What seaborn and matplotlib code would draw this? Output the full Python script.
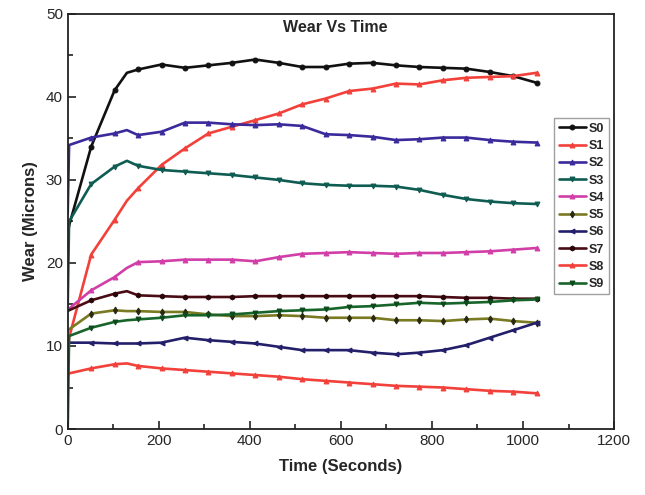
import matplotlib
matplotlib.use("Agg")
import matplotlib.pyplot as plt
import numpy as np
import pandas as pd
import seaborn as sns
from matplotlib.ticker import MultipleLocator

# time in seconds (0, 3 and 130 s are unmarked points on the curves)
time_s = [0, 3, 51.5, 103, 130, 154.5, 206, 257.5, 309, 360.5, 412, 463.5,
          515, 566.5, 618, 669.5, 721, 772.5, 824, 875.5, 927, 978.5, 1030]

s0 = [23.5, 24.5, 34, 40.8, 42.9, 43.3, 43.9, 43.5, 43.8, 44.1, 44.5, 44.1,
      43.6, 43.6, 44.0, 44.1, 43.8, 43.6, 43.5, 43.4, 43.0, 42.5, 41.7]
s1 = [8, 11, 21, 25.2, 27.5, 29, 31.8, 33.8, 35.6, 36.4, 37.2, 38.0,
      39.1, 39.8, 40.7, 41.0, 41.6, 41.5, 42.0, 42.3, 42.4, 42.5, 42.9]
s2 = [26, 34.2, 35.1, 35.6, 36.0, 35.4, 35.8, 36.9, 36.9, 36.7, 36.6, 36.7,
      36.5, 35.5, 35.4, 35.2, 34.8, 34.9, 35.1, 35.1, 34.8, 34.6, 34.5]
s3 = [15, 25, 29.5, 31.6, 32.3, 31.7, 31.2, 31.0, 30.8, 30.6, 30.3, 30.0,
      29.6, 29.4, 29.3, 29.3, 29.2, 28.8, 28.2, 27.7, 27.4, 27.2, 27.1]
s4 = [14.3, 14.5, 16.7, 18.3, 19.4, 20.1, 20.2, 20.4, 20.4, 20.4, 20.2, 20.7,
      21.1, 21.2, 21.3, 21.2, 21.1, 21.2, 21.2, 21.3, 21.4, 21.6, 21.8]
s5 = [11.8, 12.0, 13.9, 14.3, 14.2, 14.2, 14.1, 14.1, 13.8, 13.6, 13.6, 13.7,
      13.6, 13.4, 13.4, 13.4, 13.1, 13.1, 13.0, 13.2, 13.3, 13.0, 12.8]
s6 = [10.4, 10.4, 10.4, 10.3, 10.3, 10.3, 10.4, 11.0, 10.7, 10.5, 10.3, 9.9,
      9.5, 9.5, 9.5, 9.2, 9.0, 9.2, 9.5, 10.1, 11.0, 11.9, 12.8]
s7 = [14.2, 14.3, 15.5, 16.3, 16.6, 16.1, 16.0, 15.9, 15.9, 15.9, 16.0, 16.0,
      16.0, 16.0, 16.0, 16.0, 16.0, 16.0, 15.9, 15.8, 15.8, 15.7, 15.7]
s8 = [6.5, 6.7, 7.3, 7.8, 7.9, 7.6, 7.3, 7.1, 6.9, 6.7, 6.5, 6.3,
      6.0, 5.8, 5.6, 5.4, 5.2, 5.1, 5.0, 4.8, 4.6, 4.5, 4.3]
s9 = [0, 11.2, 12.2, 12.9, 13.1, 13.2, 13.4, 13.7, 13.7, 13.8, 14.0, 14.2,
      14.3, 14.4, 14.7, 14.8, 15.0, 15.2, 15.1, 15.2, 15.3, 15.5, 15.6]

labels = ["S0", "S1", "S2", "S3", "S4", "S5", "S6", "S7", "S8", "S9"]
series = [s0, s1, s2, s3, s4, s5, s6, s7, s8, s9]

colors = ["#111111", "#f2403a", "#3a2a9c", "#0e5c52", "#d23ea8",
          "#7a7a22", "#241f6a", "#4a0c14", "#f2403a", "#17652a"]
marker_colors = ["#111111", "#f2403a", "#3a2a9c", "#0e5c52", "#d23ea8",
                 "#2a2a10", "#241f6a", "#2a0508", "#f2403a", "#0c4a1c"]
markers = ["o", "^", "^", "v", "^", "d", "<", "h", "^", "v"]

sns.set_style("ticks")
plt.rcParams["font.family"] = ["Liberation Sans", "DejaVu Sans"]

fig = plt.figure(figsize=(6.45, 4.95), dpi=100)
ax = fig.add_axes([0.105, 0.1333, 0.847, 0.8387])

mark_idx = [i for i in range(2, len(time_s)) if time_s[i] != 130]

for lab, vals, c, mc, m in zip(labels, series, colors, marker_colors, markers):
    df = pd.DataFrame({"time": time_s, "wear": vals})
    sns.lineplot(data=df, x="time", y="wear", ax=ax, color=c, linewidth=1.9,
                 marker=m, markersize=3.5, markerfacecolor=mc, markeredgecolor=mc,
                 markevery=mark_idx, label=lab, sort=False)

ax.set_xlim(0, 1200)
ax.set_ylim(0, 50)
ax.xaxis.set_major_locator(MultipleLocator(200))
ax.xaxis.set_minor_locator(MultipleLocator(100))
ax.yaxis.set_major_locator(MultipleLocator(10))
ax.yaxis.set_minor_locator(MultipleLocator(5))
ax.tick_params(which="both", direction="in", top=False, right=False,
               labelsize=11, width=1.2, color="#222222")
ax.tick_params(which="major", length=6)
ax.tick_params(which="minor", length=3.5)
for sp in ax.spines.values():
    sp.set_visible(True)
    sp.set_linewidth(1.3)
    sp.set_color("#222222")

ax.set_xlabel("Time (Seconds)", fontsize=12, fontweight="bold", labelpad=8)
ax.set_ylabel("Wear (Microns)", fontsize=12, fontweight="bold", labelpad=6)
ax.text(0.49, 0.966, "Wear Vs Time", transform=ax.transAxes, ha="center",
        va="center", fontsize=11.5, fontweight="bold")

leg = ax.legend(loc="upper right", bbox_to_anchor=(0.99, 0.748),
                prop={"weight": "bold", "size": 9}, handlelength=2.2,
                handletextpad=0.2, labelspacing=0.42, borderpad=0.35,
                fancybox=False, frameon=True, borderaxespad=0)
leg.get_frame().set_edgecolor("#888888")
leg.get_frame().set_linewidth(1.0)

fig.savefig("out.png", dpi=100)
